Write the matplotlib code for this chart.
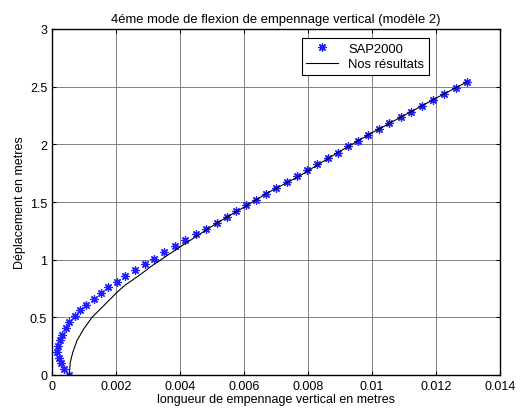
import matplotlib.pyplot as plt
import numpy as np

plt.rcParams['font.family'] = ['Liberation Sans', 'DejaVu Sans']

# SAP2000 points (x: longueur, y: deplacement)
sap_x = [0.00054, 0.000375, 0.00028, 0.00023, 0.000167, 0.0002, 0.00025, 0.00031,
         0.00043, 0.00054, 0.00071, 0.000875, 0.00107, 0.0013, 0.00152, 0.00176,
         0.00202, 0.00229, 0.00258, 0.0029, 0.00319, 0.00351, 0.00384, 0.00417,
         0.00449, 0.00481, 0.00516, 0.00547, 0.00576, 0.00606, 0.00637, 0.00669,
         0.00699, 0.00733, 0.00767, 0.00798, 0.00828, 0.00862, 0.00893, 0.00925,
         0.00957, 0.00989, 0.01021, 0.01052, 0.0109, 0.01121, 0.01157, 0.0119,
         0.01224, 0.012625, 0.01298]
sap_y = [0.0, 0.052, 0.104, 0.147, 0.2, 0.254, 0.304, 0.35, 0.404, 0.457, 0.509,
         0.561, 0.607, 0.659, 0.708, 0.76, 0.809, 0.859, 0.91, 0.965, 1.006, 1.064,
         1.116, 1.168, 1.22, 1.269, 1.318, 1.373, 1.422, 1.471, 1.521, 1.572, 1.624,
         1.676, 1.725, 1.778, 1.83, 1.882, 1.928, 1.983, 2.032, 2.084, 2.136, 2.182,
         2.234, 2.283, 2.335, 2.384, 2.434, 2.486, 2.543]

# Nos resultats
res_x = [0.00054, 0.00057, 0.00065, 0.00078, 0.00099, 0.00125, 0.00151, 0.00177,
         0.00203, 0.00229, 0.00271, 0.00313, 0.00354, 0.00406, 0.0045, 0.0050,
         0.00547, 0.00608, 0.00669, 0.00775, 0.0090, 0.0100, 0.0110, 0.0120, 0.01298]
res_y = [0.0, 0.11, 0.197, 0.298, 0.399, 0.5, 0.572, 0.644, 0.717, 0.78, 0.861,
         0.948, 1.025, 1.121, 1.2, 1.29, 1.37, 1.468, 1.572, 1.728, 1.94, 2.10,
         2.25, 2.40, 2.543]

fig = plt.figure(figsize=(5.21, 4.14), dpi=100)
ax = fig.add_axes([52 / 521, 1 - 376 / 414, 448 / 521, 346 / 414])

# matlab style asterisk: plus + cross
ax.plot(sap_x, sap_y, linestyle='none', marker=(8, 2, 0), color='#2020ff',
        markersize=6, markeredgewidth=0.9, label='SAP2000')
ax.plot(res_x, res_y, '-', color='black', linewidth=0.8, label='Nos résultats')

ax.set_xlim(0, 0.014)
ax.set_ylim(0, 3)
ax.set_xticks(np.arange(0, 0.0141, 0.002))
ax.set_xticklabels(['0', '0.002', '0.004', '0.006', '0.008', '0.01', '0.012', '0.014'])
ax.set_yticks([0, 0.5, 1, 1.5, 2, 2.5, 3])
ax.set_yticklabels(['0', '0.5', '1', '1.5', '2', '2.5', '3'])
ax.grid(True, color='#808080', linewidth=0.7)
ax.tick_params(direction='in', labelsize=9, length=3, top=True, right=True)
for s in ax.spines.values():
    s.set_linewidth(1.0)

ax.set_title('4éme mode de flexion de empennage vertical (modèle 2)', fontsize=9.4, pad=5)
ax.set_xlabel('longueur de empennage vertical en metres', fontsize=9, labelpad=1)
ax.set_ylabel('Déplacement en metres', fontsize=9, labelpad=3)

leg = ax.legend(loc='upper left', bbox_to_anchor=(249.7 / 448, 0.973), fontsize=9.4,
                fancybox=False, edgecolor='black', framealpha=1,
                borderpad=0.35, labelspacing=0.25, handlelength=2.4, borderaxespad=0)
leg.get_frame().set_linewidth(0.8)

fig.savefig('out.png', dpi=100)
